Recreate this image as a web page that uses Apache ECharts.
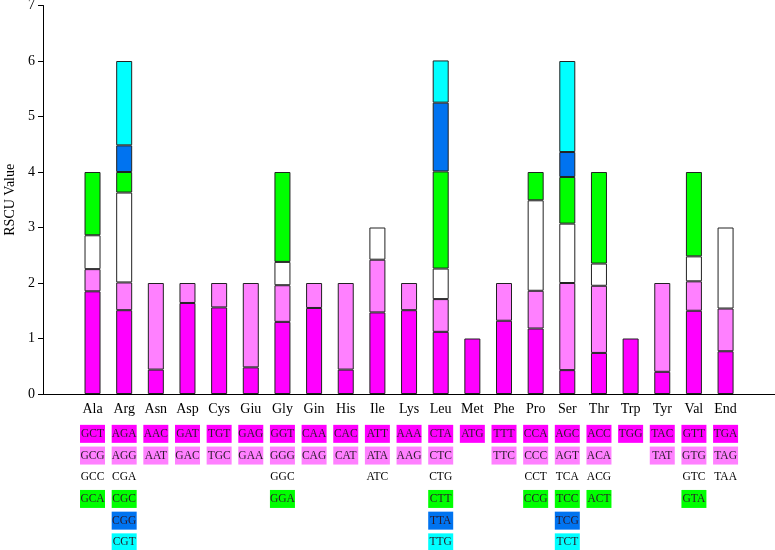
<!DOCTYPE html>
<html>
<head>
<meta charset="utf-8">
<script src="https://cdn.jsdelivr.net/npm/echarts@6/dist/echarts.min.js"></script>
<style>html,body{margin:0;padding:0;background:#fff}#c{width:775px;height:550px}</style>
</head>
<body>
<div id="c"></div>
<script>
var categories = ['Ala','Arg','Asn','Asp','Cys','Giu','Gly','Gin','His','Ile','Lys','Leu','Met','Phe','Pro','Ser','Thr','Trp','Tyr','Val','End'];
var yTicks = [0,1,2,3,4,5,6,7];

var row1Codons = ['GCT','AGA','AAC','GAT','TGT','GAG','GGT','CAA','CAC','ATT','AAA','CTA','ATG','TTT','CCA','AGC','ACC','TGG','TAC','GTT','TGA'];
var row1Values = [1.85,1.51,0.44,1.64,1.56,0.48,1.30,1.55,0.44,1.47,1.51,1.12,1.00,1.32,1.18,0.43,0.74,1.00,0.40,1.50,0.77];
var row2Codons = ['GCG','AGG','AAT','GAC','TGC','GAA','GGG','CAG','CAT','ATA','AAG','CTC','','TTC','CCC','AGT','ACA','','TAT','GTG','TAG'];
var row2Values = [0.40,0.50,1.56,0.36,0.44,1.52,0.66,0.45,1.56,0.95,0.49,0.59,null,0.68,0.68,1.57,1.21,null,1.60,0.53,0.77];
var row3Codons = ['GCC','CGA','','','','','GGC','','','ATC','','CTG','','','CCT','TCA','ACG','','','GTC','TAA'];
var row3Values = [0.61,1.62,null,null,null,null,0.42,null,null,0.58,null,0.55,null,null,1.63,1.07,0.40,null,null,0.45,1.46];
var row4Codons = ['GCA','CGC','','','','','GGA','','','','','CTT','','','CCG','TCC','ACT','','','GTA',''];
var row4Values = [1.14,0.37,null,null,null,null,1.62,null,null,null,null,1.75,null,null,0.51,0.84,1.65,null,null,1.52,null];
var row5Codons = ['','CGG','','','','','','','','','','TTA','','','','TCG','','','','',''];
var row5Values = [null,0.48,null,null,null,null,null,null,null,null,null,1.24,null,null,null,0.45,null,null,null,null,null];
var row6Codons = ['','CGT','','','','','','','','','','TTG','','','','TCT','','','','',''];
var row6Values = [null,1.52,null,null,null,null,null,null,null,null,null,0.76,null,null,null,1.64,null,null,null,null,null];

var rowColors = ['#FF00FF','#FF80FF','#FFFFFF','#00FF00','#0073F0','#00FFFF'];
var rowCodons = [row1Codons,row2Codons,row3Codons,row4Codons,row5Codons,row6Codons];
var rowValues = [row1Values,row2Values,row3Values,row4Values,row5Values,row6Values];

var FONT = '"Liberation Serif","Times New Roman",serif';

var rich = {
  n: {fontFamily: FONT, fontSize: 14, color: '#000', lineHeight: 27, align: 'center'}
};
for (var r = 0; r < 6; r++) {
  var st = {fontFamily: FONT, fontSize: 11.5, color: '#2a1a2a', lineHeight: 21.7, width: 25, height: 18, align: 'center', verticalAlign: 'middle'};
  if (r !== 2) st.backgroundColor = rowColors[r]; else st.color = '#000';
  rich['r' + r] = st;
}

var series = [];
for (var k = 0; k < 6; k++) {
  series.push({
    type: 'bar', stack: 'rscu', xAxisIndex: 0, yAxisIndex: 0,
    barWidth: 16,
    data: rowValues[k],
    itemStyle: {color: rowColors[k], borderColor: '#222', borderWidth: 1},
    emphasis: {disabled: true}
  });
}

var chart = echarts.init(document.getElementById('c'));
chart.setOption({
  animation: false,
  backgroundColor: '#fff',
  grid: [
    {left: 76.7, width: 664.7, top: 5.5, bottom: 156, containLabel: false, outerBoundsMode: 'none'},
    {left: 43, right: 0, top: 5.5, bottom: 156, containLabel: false, outerBoundsMode: 'none'}
  ],
  xAxis: [
    {
      type: 'category', gridIndex: 0, data: categories,
      axisLine: {show: false}, axisTick: {show: false},
      axisLabel: {
        interval: 0, margin: 2, verticalAlign: 'top',
        formatter: function (val, idx) {
          var s = '{n|' + val + '}';
          for (var r = 0; r < 6; r++) {
            var c = rowCodons[r][idx];
            if (c) s += '\n{r' + r + '|' + c + '}';
          }
          return s;
        },
        rich: rich
      }
    },
    {
      type: 'value', gridIndex: 1, min: 0, max: 1,
      axisLine: {show: true, lineStyle: {color: '#000', width: 1}},
      axisTick: {show: false}, axisLabel: {show: false}, splitLine: {show: false}
    }
  ],
  yAxis: [
    {
      type: 'value', gridIndex: 0, min: yTicks[0], max: yTicks[yTicks.length - 1], interval: 1,
      offset: 33.7,
      name: 'RSCU Value', nameLocation: 'middle', nameGap: 24,
      nameTextStyle: {fontFamily: FONT, fontSize: 14, color: '#000'},
      axisLine: {show: true, lineStyle: {color: '#000', width: 1}},
      axisTick: {show: true, inside: false, length: 5, lineStyle: {color: '#000'}},
      axisLabel: {fontFamily: FONT, fontSize: 14, color: '#000', margin: 8},
      splitLine: {show: false}
    },
    {type: 'value', gridIndex: 1, show: false, min: 0, max: 1}
  ],
  series: series
});
</script>
</body>
</html>
